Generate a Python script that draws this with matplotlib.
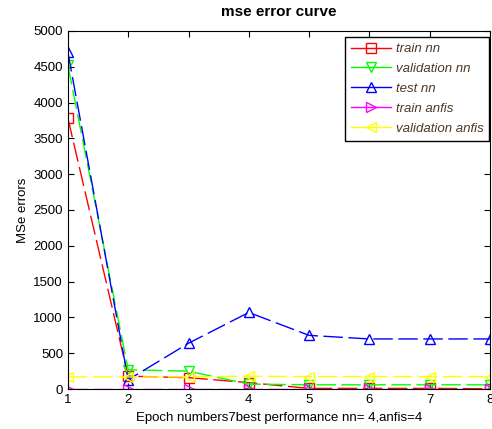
import numpy as np
import matplotlib
matplotlib.use("Agg")
import matplotlib.pyplot as plt

plt.rcParams['font.family'] = ['Liberation Sans', 'DejaVu Sans']

epochs = [1, 2, 3, 4, 5, 6, 7, 8]
train_nn = [3780, 180, 160, 90, 10, 10, 10, 5]
val_nn = [4520, 270, 250, 70, 60, 60, 60, 60]
test_nn = [4700, 130, 640, 1070, 750, 700, 700, 700]
train_anfis = [5, 5, 5, 5, 5, 5, 5, 5]
val_anfis = [170, 170, 170, 180, 175, 175, 175, 175]

labels = ['train nn', 'validation nn', 'test nn', 'train anfis', 'validation anfis']
colors = ['#ff0000', '#00ff00', '#0000ff', '#ff00ff', '#ffff00']
markers = ['s', 'v', '^', '>', '<']


def main():
    fig = plt.figure(figsize=(4.92, 4.29), dpi=100)
    ax = fig.add_axes([0.138, 0.093, 0.858, 0.835])

    series = [train_nn, val_nn, test_nn, train_anfis, val_anfis]
    for i in range(len(series)):
        ax.plot(epochs, series[i], color=colors[i], marker=markers[i],
                markersize=7, fillstyle='none', markeredgewidth=1,
                linewidth=1, dashes=(14, 4), label=labels[i])

    ax.set_xlim(1, 8)
    ax.set_ylim(0, 5000)
    ax.set_xticks(epochs)
    ax.set_yticks(np.arange(0, 5001, 500))
    ax.tick_params(direction='in', top=True, right=True, labelsize=9.5,
                   length=4, colors='black')
    ax.set_title('mse error curve', fontsize=11, fontweight='bold', pad=11)
    ax.set_xlabel('Epoch numbers7best performance nn= 4,anfis=4', fontsize=9.5)
    ax.set_ylabel('MSe errors', fontsize=9.5, labelpad=3)

    leg = ax.legend(loc='upper right', fancybox=False, framealpha=1,
                    edgecolor='black', handlelength=3.0, handletextpad=0.35,
                    borderpad=0.45, labelspacing=0.58, borderaxespad=0,
                    prop={'style': 'italic', 'size': 9.5},
                    bbox_to_anchor=(0.998, 0.983))
    leg.get_frame().set_linewidth(1)
    for h in leg.get_lines():
        h.set_linestyle('-')
    for t in leg.get_texts():
        t.set_color('#4d3826')

    fig.savefig('out.png', dpi=100)


if __name__ == '__main__':
    main()
